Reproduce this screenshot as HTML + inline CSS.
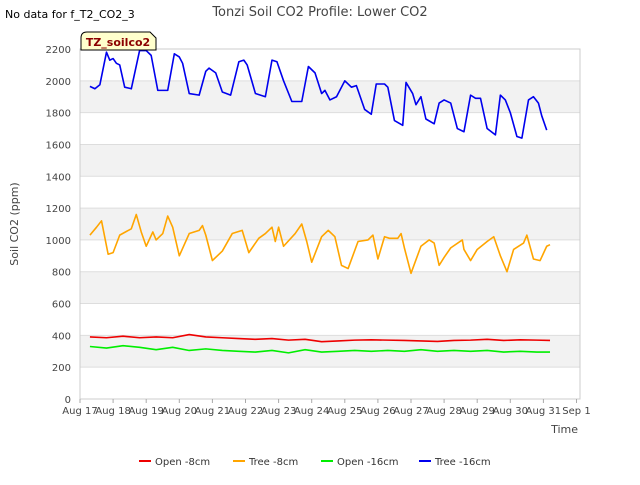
<!DOCTYPE html>
<html><head><meta charset="utf-8"><style>
body{margin:0;background:#fff;font-family:"Liberation Sans","DejaVu Sans",sans-serif;}
svg text{font-family:"DejaVu Sans","Liberation Sans",sans-serif;}
</style></head><body>
<svg id="c" width="640" height="480" viewBox="0 0 640 480" xmlns="http://www.w3.org/2000/svg">
<text x="5" y="18" font-size="11" fill="#000">No data for f_T2_CO2_3</text>
<text x="320" y="16" font-size="13" fill="#444" text-anchor="middle">Tonzi Soil CO2 Profile: Lower CO2</text>
<g id="bands"></g>
<g id="grid"></g>
<rect x="80" y="49" width="500" height="350" fill="none" stroke="#ccc"/>
<g id="yt"></g><g id="xt"></g>
<text x="18" y="224" font-size="11" fill="#444" text-anchor="middle" transform="rotate(-90 18 224)">Soil CO2 (ppm)</text>
<text x="578" y="433" font-size="11" fill="#444" text-anchor="end">Time</text>
<g id="series"></g>
<g><path d="M81 50 V38 Q81 32 87 32 H150 L156 38 V50 Z" fill="#ffffcc" stroke="#000"/><text x="118" y="46" font-size="11" font-weight="bold" fill="#8b0000" text-anchor="middle">TZ_soilco2</text></g>
<g id="legend"></g>
</svg>
<script>
const yTicks=[0,200,400,600,800,1000,1200,1400,1600,1800,2000,2200];
const xLabels=["Aug 17","Aug 18","Aug 19","Aug 20","Aug 21","Aug 22","Aug 23","Aug 24","Aug 25","Aug 26","Aug 27","Aug 28","Aug 29","Aug 30","Aug 31","Sep 1"];
const blueT=[0.3,0.45,0.6,0.8,0.9,1.0,1.1,1.2,1.35,1.55,1.8,2.0,2.15,2.35,2.65,2.85,3.0,3.1,3.3,3.6,3.8,3.9,4.1,4.3,4.55,4.8,4.95,5.05,5.3,5.6,5.8,5.95,6.15,6.4,6.7,6.9,7.1,7.3,7.4,7.55,7.75,8.0,8.2,8.35,8.6,8.8,8.95,9.2,9.3,9.5,9.75,9.85,10.05,10.15,10.3,10.45,10.7,10.85,11.0,11.2,11.4,11.6,11.8,11.95,12.1,12.3,12.55,12.7,12.85,13.0,13.2,13.35,13.55,13.7,13.85,13.95,14.1];
const blueV=[1965,1950,1975,2180,2130,2140,2110,2100,1960,1950,2190,2190,2160,1940,1940,2170,2150,2110,1920,1910,2060,2080,2050,1930,1910,2120,2130,2100,1920,1900,2130,2120,2000,1870,1870,2090,2050,1920,1940,1880,1900,2000,1960,1970,1820,1790,1980,1980,1960,1750,1720,1990,1920,1850,1900,1760,1730,1860,1880,1860,1700,1680,1910,1890,1890,1700,1660,1910,1880,1800,1650,1640,1880,1900,1860,1780,1690];
const orT=[0.3,0.5,0.65,0.85,1.0,1.2,1.55,1.7,1.85,2.0,2.2,2.3,2.5,2.65,2.8,3.0,3.3,3.6,3.7,3.8,4.0,4.3,4.6,4.9,5.1,5.4,5.6,5.8,5.9,6.0,6.15,6.5,6.7,6.85,7.0,7.3,7.5,7.7,7.9,8.1,8.4,8.7,8.85,9.0,9.2,9.35,9.6,9.7,9.8,10.0,10.3,10.55,10.7,10.85,11.0,11.2,11.55,11.6,11.8,12.0,12.3,12.5,12.7,12.9,13.1,13.4,13.5,13.7,13.9,14.1,14.2];
const orV=[1030,1080,1120,910,920,1030,1070,1160,1050,960,1050,1000,1040,1150,1080,900,1040,1060,1090,1030,870,930,1040,1060,920,1010,1040,1080,990,1080,960,1040,1100,990,860,1020,1060,1020,840,820,990,1000,1030,880,1020,1010,1010,1040,950,790,960,1000,980,840,890,950,1000,940,870,940,990,1020,900,800,940,980,1030,880,870,960,970];
const lowT=[0.3,0.8,1.3,1.8,2.3,2.8,3.3,3.8,4.3,4.8,5.3,5.8,6.3,6.8,7.3,7.8,8.3,8.8,9.3,9.8,10.3,10.8,11.3,11.8,12.3,12.8,13.3,13.8,14.2];
const redV=[390,385,395,385,390,385,405,390,385,380,375,380,370,375,360,365,370,372,370,368,365,362,368,370,375,368,372,370,368];
const greenV=[330,320,335,325,310,325,305,315,305,300,295,305,290,310,295,300,305,300,305,300,310,300,305,300,305,295,300,295,295];
const X=d=>80+d*33.1, Y=v=>399-v*350/2200;
const NS="http://www.w3.org/2000/svg";
function mk(p,t,a){const e=document.createElementNS(NS,t);for(const k in a)e.setAttribute(k,a[k]);document.getElementById(p).appendChild(e);return e;}
for(let i=0;i<yTicks.length-1;i++){if(i%2===1){const r=mk('bands','rect',{x:80,y:Y(yTicks[i+1]),width:500,height:Y(yTicks[i])-Y(yTicks[i+1]),fill:'#f2f2f2'});

}}
yTicks.forEach(v=>{const l=mk('grid','line',{x1:80,x2:580,y1:Y(v),y2:Y(v),stroke:'#ddd'});


const t=mk('yt','text',{x:71,y:Y(v)+4,'font-size':10,fill:'#444','text-anchor':'end'});t.textContent=v;

});
xLabels.forEach((s,i)=>{const t=mk('xt','text',{x:X(i),y:414,'font-size':10,fill:'#444','text-anchor':'middle'});t.textContent=s;


mk('xt','line',{x1:X(i),x2:X(i),y1:399,y2:403,stroke:'#aaa'});});
function line(T,V,c,n){const p=mk('series','polyline',{points:T.map((t,i)=>X(t)+','+Y(V[i])).join(' '),fill:'none',stroke:c,'stroke-width':1.6,'stroke-linejoin':'round'});

}
line(lowT,greenV,'#00ee00','series-open-16cm');
line(lowT,redV,'#ee0000','series-open-8cm');
line(orT,orV,'#ffa500','series-tree-8cm');
line(blueT,blueV,'#0000ee','series-tree-16cm');
const leg=[["Open -8cm","#ee0000",139],["Tree -8cm","#ffa500",233],["Open -16cm","#00ee00",321],["Tree -16cm","#0000ee",419]];
leg.forEach(([n,c,x])=>{const g=mk('legend','g',{});


const l=document.createElementNS(NS,'line');l.setAttribute('x1',x);l.setAttribute('x2',x+12);l.setAttribute('y1',461);l.setAttribute('y2',461);l.setAttribute('stroke',c);l.setAttribute('stroke-width',2);g.appendChild(l);
const t=document.createElementNS(NS,'text');t.setAttribute('x',x+16);t.setAttribute('y',465);t.setAttribute('font-size',10);t.setAttribute('fill','#333');t.textContent=n;g.appendChild(t);});
</script>
</body></html>
